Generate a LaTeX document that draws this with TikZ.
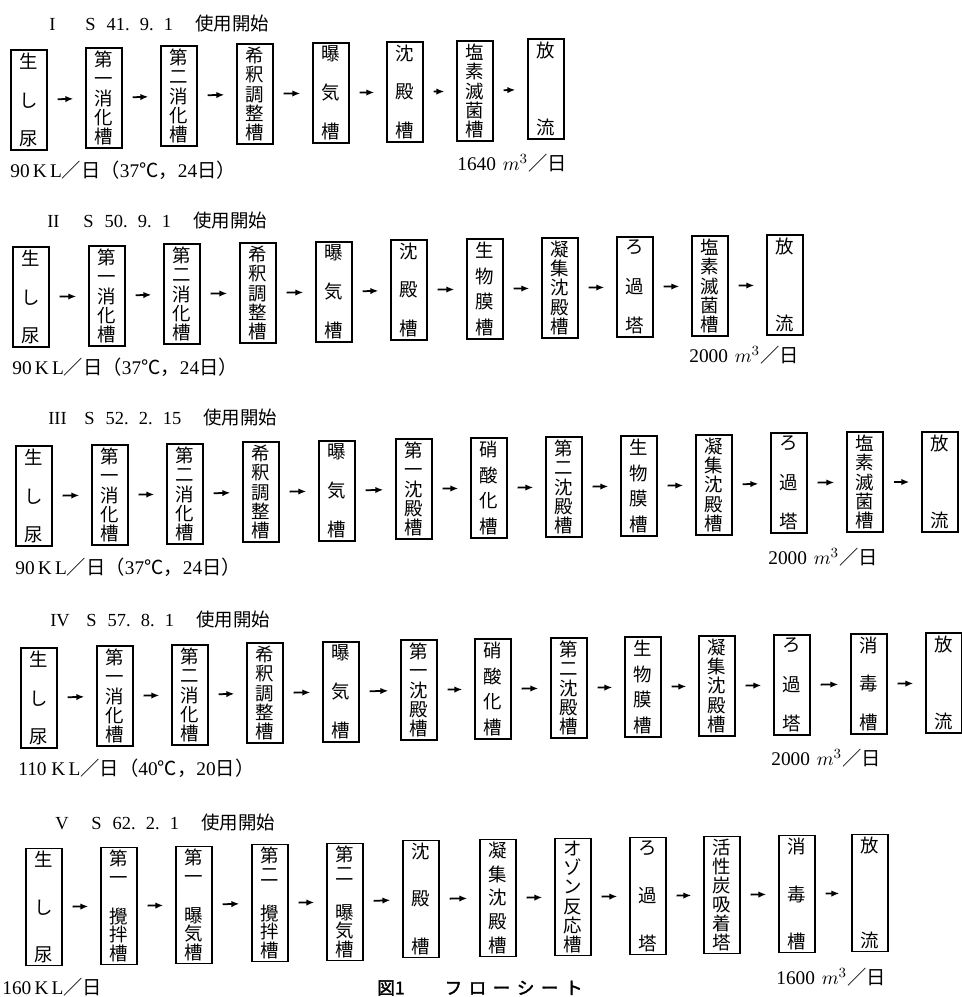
\documentclass[tikz,border=0pt]{standalone}
\usepackage{fontspec}
\setmainfont{Liberation Serif}
\newfontfamily\jp{Noto Sans CJK JP}[AutoFakeBold=2]
\usetikzlibrary{arrows.meta}

% vertical text of one tank, items spread over the box height
\newcommand{\tate}[2][1.85cm]{\parbox[c][#1][s]{0.6cm}{\centering
  \foreach \c [count=\k] in {#2}{\ifnum\k>1 \vfill\fi\c}}}
% title line of each plant
\newcommand{\kaishi}[4]{\makebox[0.72cm][l]{#1}S\hspace{0.6em}#2.\hspace{0.55em}#3.\hspace{0.55em}#4\hspace{1.2em}{\jp 使用開始}}
% daily discharge
\newcommand{\ryo}[1]{#1\hspace{0.35em}$m^{3}${\jp ／日}}

\begin{document}
\begin{tikzpicture}[x=0.02cm, y=-0.02cm, >={Latex[length=4.5pt,width=3.6pt]},
  tank/.style={draw, line width=1pt, inner sep=1.6pt, font=\jp\fontsize{10.5}{10.5}\selectfont},
  feed/.style={->, line width=1pt, shorten <=0.2cm, shorten >=0.24cm},
  rowtitle/.style={anchor=west, inner sep=0pt, font=\fontsize{10.5}{12}\selectfont},
  amount/.style={anchor=west, inner sep=0pt, font=\fontsize{11}{12}\selectfont}]
  \useasboundingbox[fill=white] (0,0) rectangle (961,997);

  % I  S 41.9.1
  \node[rowtitle] (T1) at (49,24) {\kaishi{I}{41}{9}{1}};
  \node[tank] (A1) at (29,100) {\tate{生,し,尿}};
  \node[tank] (A2) at (104,98) {\tate{第,一,消,化,槽}};
  \node[tank] (A3) at (179,96) {\tate{第,二,消,化,槽}};
  \node[tank] (A4) at (255,94) {\tate{希,釈,調,整,槽}};
  \node[tank] (A5) at (331,93) {\tate{曝,気,槽}};
  \node[tank] (A6) at (405,92) {\tate{沈,殿,槽}};
  \node[tank] (A7) at (475,91) {\tate{塩,素,滅,菌,槽}};
  \node[tank] (A8) at (546,89) {\tate{放,流}};
  \foreach \i [count=\j from 2] in {1,...,7} \draw[feed] (A\i) -- (A\j);
  \node[amount] (A1q) at (10,170) {90\,K\,L{\jp ／日（}37{\jp ℃，}24{\jp 日）}};
  \node[amount] (A7q) at (457,163) {\ryo{1640}};

  % II  S 50.9.1
  \node[rowtitle] (T2) at (47,221) {\kaishi{II}{50}{9}{1}};
  \node[tank] (B1) at (31,297) {\tate{生,し,尿}};
  \node[tank] (B2) at (107,296) {\tate{第,一,消,化,槽}};
  \node[tank] (B3) at (182,294) {\tate{第,二,消,化,槽}};
  \node[tank] (B4) at (258,293) {\tate{希,釈,調,整,槽}};
  \node[tank] (B5) at (334,292) {\tate{曝,気,槽}};
  \node[tank] (B6) at (409,290) {\tate{沈,殿,槽}};
  \node[tank] (B7) at (485,289) {\tate{生,物,膜,槽}};
  \node[tank] (B8) at (560,288) {\tate{凝,集,沈,殿,槽}};
  \node[tank] (B9) at (635,287) {\tate{ろ,過,塔}};
  \node[tank] (B10) at (710,286) {\tate{塩,素,滅,菌,槽}};
  \node[tank] (B11) at (785,285) {\tate{放,流}};
  \foreach \i [count=\j from 2] in {1,...,10} \draw[feed] (B\i) -- (B\j);
  \node[amount] (B1q) at (12,367) {90\,K\,L{\jp ／日（}37{\jp ℃，}24{\jp 日）}};
  \node[amount] (B10q) at (689,355) {\ryo{2000}};

  % III  S 52.2.15
  \node[rowtitle] (T3) at (48,418) {\kaishi{III}{52}{2}{15}};
  \node[tank] (C1) at (34,496) {\tate{生,し,尿}};
  \node[tank] (C2) at (110,495) {\tate{第,一,消,化,槽}};
  \node[tank] (C3) at (185,494) {\tate{第,二,消,化,槽}};
  \node[tank] (C4) at (261,492) {\tate{希,釈,調,整,槽}};
  \node[tank] (C5) at (337,491) {\tate{曝,気,槽}};
  \node[tank] (C6) at (414,489) {\tate{第,一,沈,殿,槽}};
  \node[tank] (C7) at (489,488) {\tate{硝,酸,化,槽}};
  \node[tank] (C8) at (564,487) {\tate{第,二,沈,殿,槽}};
  \node[tank] (C9) at (639,486) {\tate{生,物,膜,槽}};
  \node[tank] (C10) at (714,485) {\tate{凝,集,沈,殿,槽}};
  \node[tank] (C11) at (789,483) {\tate{ろ,過,塔}};
  \node[tank] (C12) at (865,482) {\tate{塩,素,滅,菌,槽}};
  \node[tank] (C13) at (940,482) {\tate{放,流}};
  \foreach \i [count=\j from 2] in {1,...,12} \draw[feed] (C\i) -- (C\j);
  \node[amount] (C1q) at (15,567) {90\,K\,L{\jp ／日（}37{\jp ℃，}24{\jp 日）}};
  \node[amount] (C11q) at (768,557) {\ryo{2000}};

  % IV  S 57.8.1
  \node[rowtitle] (T4) at (50,620) {\kaishi{IV}{57}{8}{1}};
  \node[tank] (D1) at (39,698) {\tate{生,し,尿}};
  \node[tank] (D2) at (115,696) {\tate{第,一,消,化,槽}};
  \node[tank] (D3) at (190,695) {\tate{第,二,消,化,槽}};
  \node[tank] (D4) at (265,693) {\tate{希,釈,調,整,槽}};
  \node[tank] (D5) at (341,692) {\tate{曝,気,槽}};
  \node[tank] (D6) at (419,690) {\tate{第,一,沈,殿,槽}};
  \node[tank] (D7) at (493,689) {\tate{硝,酸,化,槽}};
  \node[tank] (D8) at (569,688) {\tate{第,二,沈,殿,槽}};
  \node[tank] (D9) at (643,687) {\tate{生,物,膜,槽}};
  \node[tank] (D10) at (717,686) {\tate{凝,集,沈,殿,槽}};
  \node[tank] (D11) at (792,685) {\tate{ろ,過,塔}};
  \node[tank] (D12) at (869,684) {\tate{消,毒,槽}};
  \node[tank] (D13) at (944,683) {\tate{放,流}};
  \foreach \i [count=\j from 2] in {1,...,12} \draw[feed] (D\i) -- (D\j);
  \node[amount] (D1q) at (18,768) {110 K\,L{\jp ／日（}40{\jp ℃，}20{\jp 日）}};
  \node[amount] (D11q) at (771,758) {\ryo{2000}};

  % V  S 62.2.1
  \node[rowtitle] (T5) at (55,823) {\kaishi{V}{62}{2}{1}};
  \node[tank] (E1) at (44,907) {\tate[2.2cm]{生,し,尿}};
  \node[tank] (E2) at (119,906) {\tate[2.2cm]{{第\\一},{攪\\拌\\槽}}};
  \node[tank] (E3) at (194,905) {\tate[2.2cm]{{第\\一},{曝\\気\\槽}}};
  \node[tank] (E4) at (270,903) {\tate[2.2cm]{{第\\二},{攪\\拌\\槽}}};
  \node[tank] (E5) at (345,902) {\tate[2.2cm]{{第\\二},{曝\\気\\槽}}};
  \node[tank] (E6) at (421,899) {\tate[2.2cm]{沈,殿,槽}};
  \node[tank] (E7) at (498,898) {\tate[2.2cm]{凝,集,沈,殿,槽}};
  \node[tank] (E8) at (573,897) {\tate[2.2cm]{オ,ゾ,ン,反,応,槽}};
  \node[tank] (E9) at (648,896) {\tate[2.2cm]{ろ,過,塔}};
  \node[tank] (E10) at (722,895) {\tate[2.2cm]{活,性,炭,吸,着,塔}};
  \node[tank] (E11) at (797,894) {\tate[2.2cm]{消,毒,槽}};
  \node[tank] (E12) at (870,893) {\tate[2.2cm]{放,流}};
  \foreach \i [count=\j from 2] in {1,...,11} \draw[feed] (E\i) -- (E\j);
  \node[amount] (E1q) at (2,987) {160\,K\,L{\jp ／日}};
  \node[amount] (E11q) at (776,977) {\ryo{1600}};

  % caption
  \node[anchor=west, inner sep=0pt, font=\jp\bfseries\fontsize{10}{12}\selectfont] (cap) at (377,988)
    {図1\hspace{0.8cm}フ\hspace{0.13cm}ロ\hspace{0.13cm}ー\hspace{0.13cm}シ\hspace{0.13cm}ー\hspace{0.13cm}ト};
\end{tikzpicture}
\end{document}
